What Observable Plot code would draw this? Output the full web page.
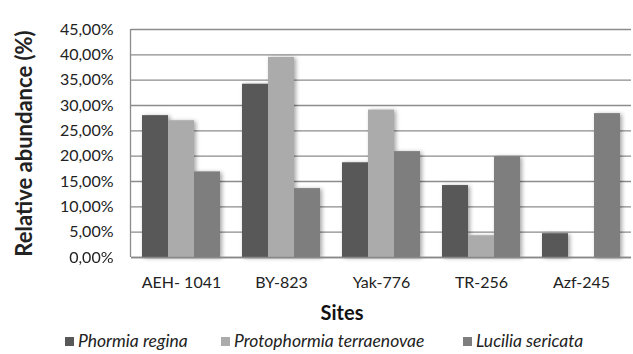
<!DOCTYPE html>
<html>
<head>
<meta charset="utf-8">
<script src="https://cdn.jsdelivr.net/npm/d3@7"></script>
<script src="https://cdn.jsdelivr.net/npm/@observablehq/plot@0.6"></script>
<style>
  body { margin: 0; background: #fff; font-family: Lato, "Open Sans", sans-serif; }
  #chart { position: relative; width: 633px; height: 354px; overflow: hidden; }
  #chart svg { display: block; }
  .xtitle { position: absolute; left: 302px; top: 300px; width: 80px; text-align: center;
            font-size: 20px; font-weight: bold; color: #111; }
  .legend { position: absolute; top: 331px; left: 0; width: 633px; height: 22px; font-size: 17.5px; line-height: 20px; font-style: italic; color: #222; }
  .legend .item { position: absolute; top: 0; white-space: nowrap; }
  .legend .sw { display: inline-block; width: 9px; height: 9px; margin-right: 4px; vertical-align: 1px; }
</style>
</head>
<body>
<div id="chart"></div>
<script>
// Sites sampled and the three blow fly species
const sites = ["AEH- 1041", "BY-823", "Yak-776", "TR-256", "Azf-245"];
const species = ["Phormia regina", "Protophormia terraenovae", "Lucilia sericata"];

// Relative abundance (%) per site
const phormiaRegina = [28.0, 34.2, 18.7, 14.2, 4.7];
const protophormiaTerraenovae = [27.0, 39.5, 29.1, 4.3, 0];
const luciliaSericata = [16.9, 13.6, 20.9, 19.9, 28.4];

const yTicks = [0, 5, 10, 15, 20, 25, 30, 35, 40, 45];
const speciesColors = ["#585858", "#ababab", "#7e7e7e"];

const series = [phormiaRegina, protophormiaTerraenovae, luciliaSericata];
const table = sites.flatMap((site, i) =>
  species.map((sp, j) => ({site, species: sp, value: series[j][i]}))
);

// Comma decimal separator: 45,00%
const locale = d3.formatLocale({decimal: ",", thousands: ".", grouping: [3], currency: ["", ""], percent: "%"});
const pct = locale.format(".2%");

const plot = Plot.plot({
  width: 633,
  height: 300,
  marginTop: 29,
  marginBottom: 43,
  marginLeft: 130,
  marginRight: 1,
  style: {fontFamily: "Lato, 'Open Sans', sans-serif", color: "#222", background: "#fff"},
  fx: {domain: sites, padding: 0, label: null},
  x: {domain: species, paddingInner: 0, paddingOuter: 0.36, axis: null},
  y: {domain: [0, 45], label: null},
  color: {domain: species, range: speciesColors},
  marks: [
    Plot.gridY(yTicks, {stroke: "#8c8c8c", strokeOpacity: 1, strokeWidth: 1.3}),
    Plot.barY(table, {fx: "site", x: "species", y: "value", fill: "species"}),
    Plot.ruleY([0], {stroke: "#888", strokeWidth: 1.5}),
    Plot.axisY({ticks: yTicks, tickFormat: d => pct(d / 100), tickSize: 0, tickPadding: 18, fontSize: 16, label: null}),
    Plot.axisY({ticks: [], label: "Relative abundance (%)", labelAnchor: "center", labelArrow: "none",
                labelOffset: 115, fontSize: 22, fontWeight: "bold"}),
    Plot.axisFx({anchor: "bottom", tickSize: 0, tickPadding: 19, fontSize: 16, label: null})
  ]
});

// Left edge of the plotting area and a soft shadow behind the bars
const svg = d3.select(plot);
const y = plot.scale("y");
svg.append("line")
  .attr("x1", 130.5).attr("x2", 130.5)
  .attr("y1", y.apply(0)).attr("y2", y.apply(45))
  .attr("stroke", "#8c8c8c").attr("stroke-width", 1.3);
const defs = svg.insert("defs", ":first-child");
defs.append("filter").attr("id", "barShadow")
  .attr("x", "-20%").attr("y", "-10%").attr("width", "160%").attr("height", "130%")
  .append("feDropShadow")
  .attr("dx", 2).attr("dy", 1).attr("stdDeviation", 2)
  .attr("flood-color", "#000").attr("flood-opacity", 0.35);
svg.selectAll('g[aria-label="bar"]').attr("filter", "url(#barShadow)");

const chart = document.getElementById("chart");
chart.appendChild(plot);

const xt = document.createElement("div");
xt.className = "xtitle";
xt.textContent = "Sites";
chart.appendChild(xt);

// Legend below the chart
const legend = document.createElement("div");
legend.className = "legend";
const legendLeft = [65, 221, 463];
species.forEach((sp, j) => {
  const item = document.createElement("span");
  item.className = "item";
  item.style.left = legendLeft[j] + "px";
  const sw = document.createElement("span");
  sw.className = "sw";
  sw.style.background = speciesColors[j];
  item.appendChild(sw);
  item.appendChild(document.createTextNode(sp));
  legend.appendChild(item);
});
chart.appendChild(legend);
</script>
</body>
</html>
